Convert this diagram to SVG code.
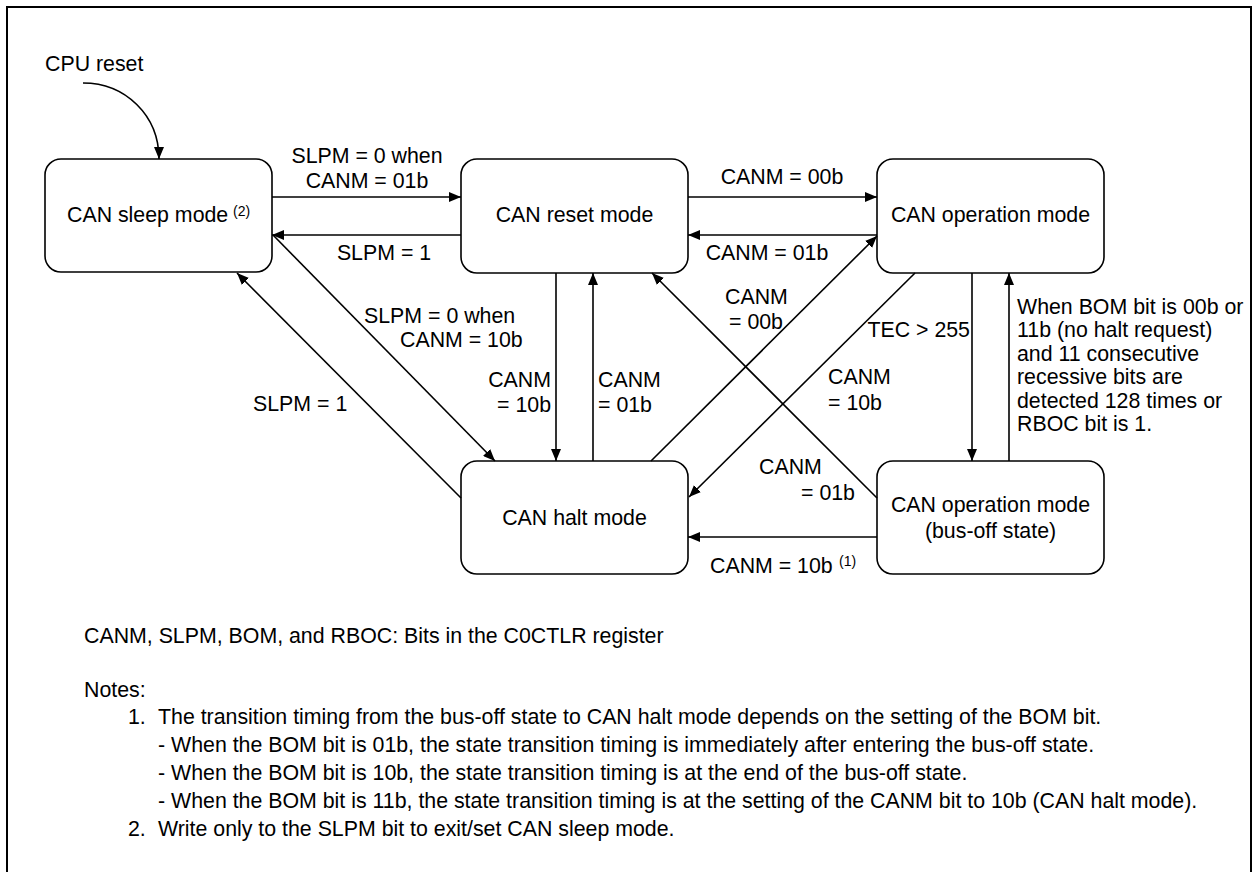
<svg xmlns="http://www.w3.org/2000/svg" width="1255" height="872" viewBox="0 0 1255 872">
<defs>
<marker id="arr" markerUnits="userSpaceOnUse" markerWidth="12" markerHeight="10" refX="12" refY="5" orient="auto">
<path d="M0,0 L12,5 L0,10 z" fill="#000"/>
</marker>
<style>
text{font-family:"Liberation Sans",Arial,sans-serif;font-size:21.33px;fill:#000}
.sup{font-size:14px}
.box{fill:#fff;stroke:#000;stroke-width:1.6}
.c path{fill:none;stroke:#000;stroke-width:1.6;marker-end:url(#arr)}
.m{text-anchor:middle}
.e{text-anchor:end}
</style>
</defs>
<rect x="0" y="0" width="1255" height="872" fill="#fff"/>
<rect x="7" y="7" width="1244" height="900" fill="none" stroke="#000" stroke-width="2"/>

<g id="n-sleep">
<rect class="box" x="45" y="159" width="227" height="113" rx="16"/>
<text x="67" y="222">CAN sleep mode</text>
<text class="sup" x="233" y="216">(2)</text>
</g>
<g id="n-reset">
<rect class="box" x="461" y="159" width="227" height="114" rx="16"/>
<text class="m" x="574.5" y="222">CAN reset mode</text>
</g>
<g id="n-oper">
<rect class="box" x="877" y="159" width="227" height="114" rx="16"/>
<text class="m" x="990.5" y="222">CAN operation mode</text>
</g>
<g id="n-halt">
<rect class="box" x="461" y="461" width="227" height="113" rx="16"/>
<text class="m" x="574.5" y="525">CAN halt mode</text>
</g>
<g id="n-busoff">
<rect class="box" x="877" y="461" width="227" height="113" rx="16"/>
<text class="m" x="990.5" y="512">CAN operation mode</text>
<text class="m" x="990.5" y="538">(bus-off state)</text>
</g>

<g id="connectors" class="c">
<path d="M83,83 C125,83 159,115 159,159"/>
<path d="M272,197 L461,197"/>
<path d="M461,235 L272,235"/>
<path d="M688,197 L877,197"/>
<path d="M877,235 L688,235"/>
<path d="M556,273 L556,461"/>
<path d="M593,461 L593,273"/>
<path d="M972,273 L972,461"/>
<path d="M1009,461 L1009,273"/>
<path d="M273,235 L495,461"/>
<path d="M461,498 L237,273"/>
<path d="M651,461 L877,236"/>
<path d="M915,273 L689,497"/>
<path d="M877,498 L652,273"/>
<path d="M877,537 L688,537"/>
</g>

<g id="labels">
<text x="45" y="71">CPU reset</text>
<text class="m" x="367" y="163">SLPM = 0 when</text>
<text class="m" x="367" y="188">CANM = 01b</text>
<text class="m" x="384" y="260">SLPM = 1</text>
<text class="m" x="782" y="184">CANM = 00b</text>
<text class="m" x="767" y="260">CANM = 01b</text>
<text class="e" x="551" y="387">CANM</text>
<text class="e" x="551" y="412">= 10b</text>
<text x="598" y="387">CANM</text>
<text x="598" y="412">= 01b</text>
<text x="364" y="323">SLPM = 0 when</text>
<text x="400" y="347">CANM = 10b</text>
<text x="253" y="411">SLPM = 1</text>
<text x="725" y="304">CANM</text>
<text x="729" y="329">= 00b</text>
<text class="e" x="970" y="337">TEC &gt; 255</text>
<text x="828" y="384">CANM</text>
<text x="828" y="410">= 10b</text>
<text x="759" y="474">CANM</text>
<text x="801" y="500">= 01b</text>
<text x="710" y="573">CANM = 10b</text>
<text class="sup" x="839" y="566">(1)</text>
<text x="1017" y="314">When BOM bit is 00b or</text>
<text x="1017" y="337">11b (no halt request)</text>
<text x="1017" y="361">and 11 consecutive</text>
<text x="1017" y="384">recessive bits are</text>
<text x="1017" y="408">detected 128 times or</text>
<text x="1017" y="431">RBOC bit is 1.</text>
</g>

<g id="notes">
<text x="84" y="643">CANM, SLPM, BOM, and RBOC: Bits in the C0CTLR register</text>
<text x="84" y="697">Notes:</text>
<text x="128" y="724">1.</text>
<text x="158" y="724">The transition timing from the bus-off state to CAN halt mode depends on the setting of the BOM bit.</text>
<text x="158" y="752">- When the BOM bit is 01b, the state transition timing is immediately after entering the bus-off state.</text>
<text x="158" y="780">- When the BOM bit is 10b, the state transition timing is at the end of the bus-off state.</text>
<text x="158" y="808">- When the BOM bit is 11b, the state transition timing is at the setting of the CANM bit to 10b (CAN halt mode).</text>
<text x="128" y="836">2.</text>
<text x="158" y="836">Write only to the SLPM bit to exit/set CAN sleep mode.</text>
</g>
</svg>
